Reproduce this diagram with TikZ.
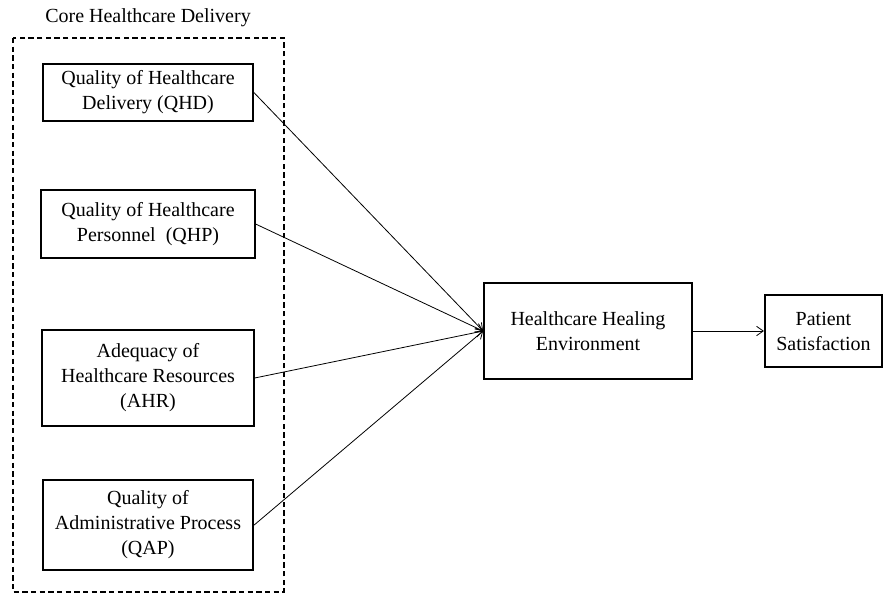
\documentclass[tikz,border=0pt]{standalone}
\usepackage{fontspec}
\setmainfont{Liberation Serif}
\usetikzlibrary{arrows.meta,positioning}

\begin{document}
\begin{tikzpicture}[x=0.75pt,y=-0.75pt,->,>={Straight Barb[length=5pt,width=7pt]},line width=0.6pt]
\tikzstyle{every node}=[font=\fontsize{15}{18.75}\selectfont,text=black]
\tikzstyle{factor}=[draw,line width=1.3pt,align=center,inner sep=2pt]

\useasboundingbox (0,0) rectangle (889,594);

\node (core) at (148,18) {Core Healthcare Delivery};
\draw[-,dashed,line width=1.3pt,dash pattern=on 4pt off 2.5pt] (13,38) rectangle (284,592);

\node[factor] (qhd) at (148,92.5) [minimum width=157.5pt,minimum height=42.75pt] {Quality of Healthcare\\Delivery (QHD)};
\node[factor] (qhp) [below of=qhd,node distance=98.6pt,minimum width=160pt,minimum height=51pt] {Quality of Healthcare\\Personnel\ \ (QHP)};
\node[factor] (ahr) [below of=qhp,node distance=115.5pt,minimum width=159pt,minimum height=72pt] {Adequacy of\\Healthcare Resources\\(AHR)};
\node[factor] (qap) [below of=ahr,node distance=110.25pt,minimum width=158pt,minimum height=67.5pt] {Quality of\\Administrative Process\\(QAP)};
\node[factor] (hhe) at (588,331) [minimum width=156pt,minimum height=72pt] {Healthcare Healing\\Environment};
\node[factor] (ps) [right of=hhe,node distance=176.6pt,minimum width=88pt,minimum height=54pt] {Patient\\Satisfaction};

\path
(qhd.east) edge (hhe.west)
(qhp.east) edge (hhe.west)
(ahr.east) edge (hhe.west)
(qap.east) edge (hhe.west)
(hhe) edge (ps)
;
\end{tikzpicture}
\end{document}
